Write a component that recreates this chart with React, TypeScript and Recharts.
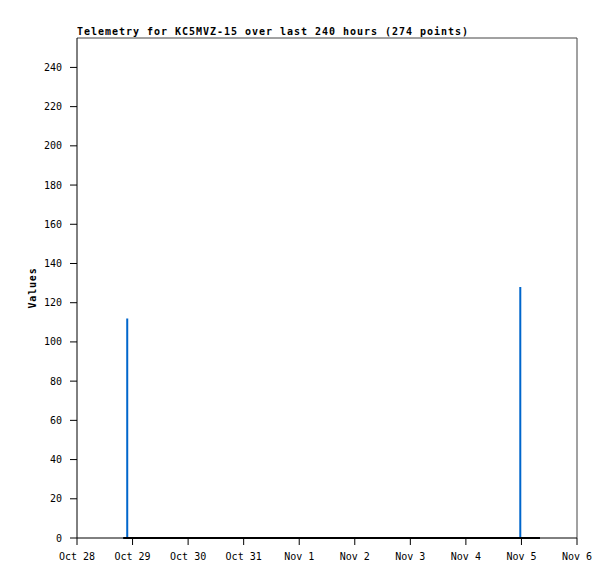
import { LineChart, Line, XAxis, YAxis, ReferenceLine, Label } from "recharts";

// x positions are hours since Oct 28 00:00
const dayLabels = ["Oct 28", "Oct 29", "Oct 30", "Oct 31", "Nov 1", "Nov 2", "Nov 3", "Nov 4", "Nov 5", "Nov 6"];
const dayTicks = [0, 24, 48, 72, 96, 120, 144, 168, 192, 216];
const valueTicks = [0, 20, 40, 60, 80, 100, 120, 140, 160, 180, 200, 220, 240];

const sampleHours = [20.0, 21.7, 21.7, 21.7, 191.5, 191.5, 191.5, 200.0];
const channelBlue = [0, 0, 112, 0, 0, 128, 0, 0];
const channelBlack = [0, 0, 0, 0, 0, 0, 0, 0];

const data = sampleHours.map((t, i) => ({ t, blue: channelBlue[i], black: channelBlack[i] }));

const mono = "'DejaVu Sans Mono', monospace";
const tickStyle = { fontFamily: mono, fontSize: 10, fill: "#000" };

export default function App() {
  return (
    <div style={{ position: "absolute", left: 0, top: 0, width: 615, height: 579, background: "#fff" }}>
      <div
        style={{
          position: "absolute",
          left: 77,
          top: 26,
          fontFamily: mono,
          fontWeight: "bold",
          fontSize: 10,
          lineHeight: "12px",
          letterSpacing: "0.98px",
          color: "#000",
          whiteSpace: "nowrap",
        }}
      >
        Telemetry for KC5MVZ-15 over last 240 hours (274 points)
      </div>
      <LineChart width={615} height={579} data={data} margin={{ top: 38, right: 38, left: 0, bottom: 0 }}>
        <XAxis
          dataKey="t"
          type="number"
          domain={[0, 216]}
          ticks={dayTicks}
          tickFormatter={(v: number) => dayLabels[dayTicks.indexOf(v)]}
          height={41}
          tickSize={7}
          tickMargin={8}
          tick={tickStyle}
          axisLine={{ stroke: "#000" }}
          tickLine={{ stroke: "#000" }}
          interval={0}
        />
        <YAxis
          type="number"
          domain={[0, 255]}
          ticks={valueTicks}
          width={77}
          tickSize={7}
          tickMargin={8}
          tick={tickStyle}
          axisLine={{ stroke: "#000" }}
          tickLine={{ stroke: "#000" }}
          interval={0}
        >
          <Label
            content={() => (
              <text
                x={36}
                y={288}
                transform="rotate(-90 36 288)"
                textAnchor="middle"
                fontFamily={mono}
                fontWeight="bold"
                fontSize={10}
                letterSpacing="0.8"
                fill="#000"
              >
                Values
              </text>
            )}
          />
        </YAxis>
        <ReferenceLine y={255} stroke="#444" />
        <ReferenceLine x={216} stroke="#444" />
        <Line
          dataKey="blue"
          stroke="#0066cc"
          strokeWidth={2}
          dot={false}
          isAnimationActive={false}
          type="linear"
        />
        <Line
          dataKey="black"
          stroke="#000"
          strokeWidth={2}
          dot={false}
          isAnimationActive={false}
          type="linear"
        />
      </LineChart>
    </div>
  );
}
